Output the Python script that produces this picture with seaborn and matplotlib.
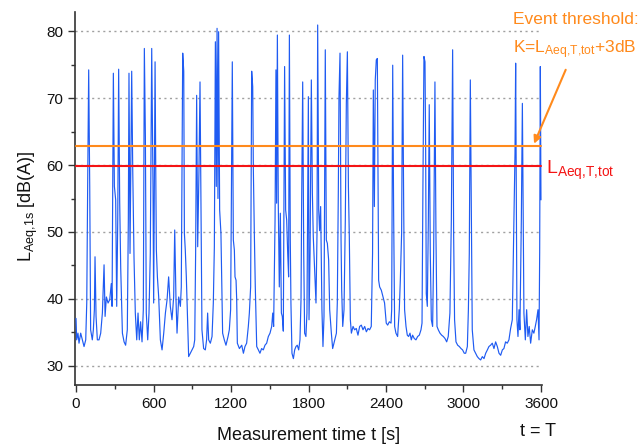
import numpy as np
import pandas as pd
import matplotlib
matplotlib.use("Agg")
import matplotlib.pyplot as plt
from matplotlib.ticker import MultipleLocator
import seaborn as sns

# ---------------- data ----------------
time_s = [
    0, 5, 15, 23, 36, 49, 62, 75, 83, 90, 98, 106, 113, 126, 134, 142, 147, 155, 165, 178,
    191, 204, 217, 225, 235, 248, 261, 273, 279, 289, 297, 307, 315, 323, 330, 338, 346, 359,
    372, 384, 397, 405, 410, 418, 423, 431, 439, 449, 459, 470, 480, 490, 500, 511, 521, 529,
    537, 544, 555, 565, 575, 586,
    596, 601, 612, 617, 622, 630, 640, 653, 666, 679, 692, 705, 717, 730, 743, 756, 764, 774,
    782, 795, 808, 815, 826, 834, 839, 846, 854, 864, 872, 885, 898, 911, 919, 926, 934, 942,
    952, 960, 968, 975, 988, 1001, 1011, 1019, 1027, 1040, 1053, 1063, 1071, 1079, 1086, 1092,
    1099, 1104, 1112, 1122, 1135, 1148, 1161, 1177, 1187, 1197, 1210,
    1218, 1226, 1231, 1239, 1244, 1249, 1265, 1283, 1296, 1308, 1321, 1334, 1342, 1352, 1360,
    1368, 1373, 1381, 1388, 1399, 1412, 1424, 1437, 1450, 1463, 1476, 1489, 1502, 1515, 1523,
    1530, 1541, 1548, 1553, 1559, 1566, 1574, 1582, 1590, 1597, 1605, 1615, 1623, 1631, 1639,
    1646, 1652, 1659, 1664, 1672, 1683, 1693, 1703, 1713, 1724, 1734, 1742, 1747, 1755, 1763,
    1770, 1780, 1788, 1799,
    1804, 1812, 1822, 1830, 1837, 1848, 1858, 1866, 1871, 1879, 1886, 1894, 1904, 1912, 1920,
    1930, 1938, 1946, 1956, 1964, 1977, 1987, 2003, 2016, 2023, 2031, 2036, 2044, 2052, 2057,
    2065, 2075, 2085, 2093, 2101, 2109, 2116, 2124, 2132, 2145, 2157, 2170, 2183, 2196, 2209,
    2222, 2235, 2248, 2261, 2273, 2286, 2296, 2302, 2310, 2317, 2325, 2333, 2338, 2343, 2351,
    2364, 2377, 2389, 2402,
    2413, 2426, 2439, 2444, 2452, 2459, 2467, 2477, 2490, 2503, 2511, 2521, 2529, 2537, 2544,
    2555, 2565, 2575, 2586, 2596, 2606, 2619, 2632, 2645, 2658, 2671, 2679, 2686, 2694, 2702,
    2707, 2712, 2720, 2728, 2735, 2743, 2751, 2761, 2769, 2779, 2787, 2795, 2805, 2818, 2831,
    2844, 2857, 2870, 2882, 2895, 2906, 2916, 2924, 2931, 2942, 2955, 2968, 2981, 2993, 3006,
    3017, 3030, 3038, 3045, 3053, 3061, 3068, 3081, 3094, 3107, 3120, 3133, 3146, 3159, 3172,
    3185, 3197, 3210, 3223, 3236, 3249, 3262, 3275, 3288, 3301, 3313, 3326, 3339, 3352, 3365,
    3378, 3391, 3399, 3404, 3409, 3414, 3422, 3430, 3437, 3448, 3456, 3463, 3468, 3479, 3489,
    3499, 3509, 3520, 3533, 3545, 3556, 3566, 3577, 3585, 3590, 3595, 3600,
]
level_db = [
    37.1, 33.9, 34.9, 33.4, 34.9, 33.9, 32.9, 33.9, 39.4, 56.8, 74.2, 56.8, 35.4, 33.9, 35.4, 38.4, 46.3, 37.4, 33.9, 33.9,
    34.9, 37.9, 45.1, 37.4, 40.3, 39.4, 39.9, 42.3, 38.9, 73.7, 56.8, 54.8, 38.9, 51.8, 74.3, 54.5, 44.6, 34.9,
    33.6, 33.1, 35.4, 51.8, 73.7, 46.8, 56.8, 74.0, 59.3, 46.1, 37.9, 33.9, 37.9, 33.9, 36.6, 33.6, 38.4, 77.4,
    64.2, 37.9, 33.9, 37.9, 46.8, 77.4,
    56.8, 39.4, 75.4, 60.0, 47.3, 43.3, 40.3, 33.9, 32.4, 34.9, 37.9, 39.9, 43.3, 38.9, 36.9, 40.3, 50.3, 39.9,
    34.9, 40.3, 38.9, 41.8, 76.7, 74.0, 49.8, 47.3, 43.3, 36.9, 31.4, 31.9, 32.4, 32.9, 33.9, 46.8, 70.4, 47.8,
    59.3, 72.4, 52.8, 35.4, 32.6, 32.4, 33.9, 37.9, 33.9, 33.4, 34.4, 39.4, 47.8, 78.4, 56.8, 80.4,
    55.0, 79.9, 53.3, 49.8, 34.9, 33.9, 33.1, 34.4, 35.4, 38.4, 75.4,
    48.8, 47.3, 43.3, 42.8, 39.9, 33.4, 32.6, 33.1, 31.9, 32.9, 33.4, 35.9, 37.9, 41.8, 74.0,
    71.7, 59.3, 49.3, 41.8, 32.9, 32.4, 31.9, 32.6, 32.4, 33.1, 33.4, 34.4, 34.9, 35.9, 37.9,
    35.9, 51.8, 74.2, 54.3, 79.4, 54.3, 41.8, 52.8, 37.9, 37.4, 35.2, 74.7, 53.3, 51.8, 46.8,
    43.3, 79.4, 48.8, 39.4, 31.9, 31.1, 32.4, 32.9, 33.1, 32.4, 33.9, 39.9, 54.3, 72.4, 46.8,
    34.9, 34.4, 37.9, 70.2,
    36.9, 46.8, 72.7, 55.8, 49.3, 44.3, 39.4, 50.0, 80.9, 53.3, 50.2, 53.8, 38.4, 32.9, 37.4,
    77.2, 48.8, 48.3, 45.8, 38.4, 34.9, 32.6, 33.9, 34.9, 39.4, 56.3, 70.2, 76.7, 48.8, 41.3,
    35.9, 38.4, 51.8, 69.2, 76.9, 56.8, 49.3, 36.9, 34.9, 35.9, 35.4, 35.6, 34.6, 35.9, 36.1,
    35.4, 35.9, 35.1, 35.6, 35.4, 35.9, 46.8, 71.2, 53.8, 72.7, 75.7, 75.9, 59.3, 42.8, 41.8,
    41.3, 40.3, 39.4, 36.4,
    36.1, 36.6, 36.4, 38.4, 74.9, 53.3, 35.9, 34.9, 34.4, 38.4, 42.8, 49.8, 76.4, 53.8, 38.4,
    35.9, 34.6, 34.4, 34.9, 33.9, 34.6, 34.1, 33.9, 34.4, 34.6, 35.4, 36.4, 56.8, 76.2, 75.4,
    62.8, 40.8, 38.9, 51.8, 69.0, 46.8, 36.9, 35.9, 46.8, 72.4, 49.3, 35.9, 35.4, 34.9, 34.6,
    34.4, 34.1, 33.6, 34.4, 37.9, 51.8, 77.2, 49.3, 36.9, 33.6, 33.1, 32.9, 32.6, 32.4, 31.9,
    31.9, 32.9, 38.4, 46.8, 72.7, 52.8, 35.4, 32.4, 31.9, 31.4, 31.1, 30.9, 31.4, 31.1, 31.9,
    32.4, 32.9, 33.1, 33.4, 32.6, 33.6, 32.9, 31.9, 31.6, 32.4, 32.6, 33.6, 33.4, 33.9, 35.6,
    36.9, 51.8, 61.8, 75.2, 56.8, 36.9, 34.4, 38.4, 35.4, 51.8, 69.2, 51.8, 37.9, 33.9, 38.4,
    34.4, 35.9, 33.4, 35.4, 34.9, 35.9, 36.9, 38.4, 33.9, 47.0, 74.7, 54.8,
]
laeq_total = 59.8          # L_Aeq,T,tot
event_threshold = 62.8     # K = L_Aeq,T,tot + 3 dB
T_total = 3600

x_ticks = [0, 600, 1200, 1800, 2400, 3000, 3600]
y_ticks = [30, 40, 50, 60, 70, 80]

df = pd.DataFrame({"t": time_s, "L": level_db})

# ---------------- style ----------------
sns.set_style("ticks")
plt.rcParams["font.family"] = ["Liberation Sans", "DejaVu Sans"]
plt.rcParams["mathtext.fontset"] = "custom"
plt.rcParams["mathtext.rm"] = "Liberation Sans"
plt.rcParams["mathtext.it"] = "Liberation Sans"
plt.rcParams["mathtext.default"] = "regular"

BLUE = "#1F5BF2"
ORANGE = "#FF8A1C"
RED = "#F41414"

fig = plt.figure(figsize=(6.38, 4.46), dpi=100)
ax = fig.add_axes([75 / 638, 1 - 385 / 446, 467 / 638, 373 / 446])

sns.lineplot(data=df, x="t", y="L", ax=ax, color=BLUE, linewidth=0.85,
             estimator=None, sort=False, zorder=3)
ax.plot([0, T_total], [event_threshold, event_threshold], color=ORANGE, lw=1.5, zorder=4)
ax.plot([0, T_total], [laeq_total, laeq_total], color=RED, lw=1.5, zorder=4)

ax.set_xlim(-8, 3608)
ax.set_ylim(27.16, 82.84)
ax.set_xticks(x_ticks)
ax.set_yticks(y_ticks)
ax.xaxis.set_minor_locator(MultipleLocator(300))
ax.yaxis.set_minor_locator(MultipleLocator(5))
ax.tick_params(axis="both", which="major", direction="out", length=5, width=1,
               labelsize=11, color="#333333", labelcolor="#111111")
ax.tick_params(axis="both", which="minor", direction="out", length=3, width=1, color="#333333")
for s in ["top", "right"]:
    ax.spines[s].set_visible(False)
for s in ["left", "bottom"]:
    ax.spines[s].set_linewidth(1.2)
    ax.spines[s].set_color("#333333")

ax.yaxis.grid(True, which="major", linestyle=(0, (1.5, 2.5)), color="#A0A0A0", lw=1.0, zorder=0)
ax.xaxis.grid(False)

ax.set_xlabel("Measurement time t [s]", fontsize=13, color="#111111")
ax.xaxis.set_label_coords(0.5, -0.112)
ax.set_ylabel(r"L$_{Aeq{,}1s}$ [dB(A)]", fontsize=13, color="#111111")
ax.yaxis.set_label_coords(-0.075, 0.48)

# annotations
fig.text(513 / 638, 1 - 20 / 446, "Event threshold:", color=ORANGE, fontsize=12.5,
         ha="left", va="center",
         bbox=dict(facecolor="white", edgecolor="none", pad=1.0))
fig.text(513 / 638, 1 - 50 / 446, r"K=L$_{Aeq{,}T{,}tot}$+3dB", color=ORANGE, fontsize=12.5,
         ha="left", va="center")
ax.annotate("", xy=(3538, event_threshold), xytext=(3800, 74.6),
            arrowprops=dict(arrowstyle="-|>", color=ORANGE, lw=1.5, mutation_scale=11),
            annotation_clip=False, zorder=6)
fig.text(546 / 638, 1 - 170 / 446, r"L$_{Aeq{,}T{,}tot}$", color=RED, fontsize=14,
         ha="left", va="center")
fig.text(538 / 638, 1 - 432 / 446, "t = T", color="#111111", fontsize=13,
         ha="center", va="center")

fig.savefig("out.png", dpi=100)
